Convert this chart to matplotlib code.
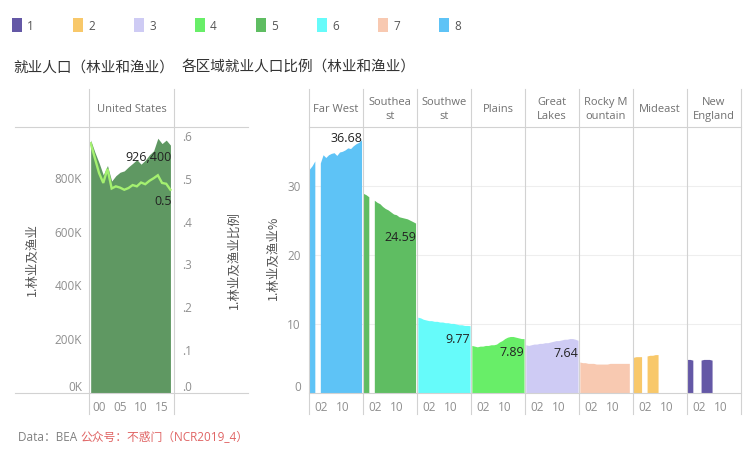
import numpy as np
import matplotlib
matplotlib.use("Agg")
import matplotlib.pyplot as plt
from matplotlib.lines import Line2D
from matplotlib.patches import Rectangle

plt.rcParams['font.family'] = ['Open Sans', 'Noto Sans CJK SC', 'DejaVu Sans']

# ---------------- data ----------------
years = list(range(1998, 2018))
us_employment = [945000, 900000, 860000, 815000, 850000, 792000, 812000, 825000, 830000, 845000,
                 858000, 872000, 855000, 870000, 890000, 905000, 952000, 932000, 945000, 926400]
us_ratio = [0.585, 0.550, 0.515, 0.492, 0.525, 0.479, 0.484, 0.481, 0.476, 0.480,
            0.487, 0.484, 0.493, 0.489, 0.497, 0.503, 0.510, 0.492, 0.490, 0.476]

nan = np.nan
regions = ["Far West", "Southeast", "Southwest", "Plains", "Great Lakes",
           "Rocky Mountain", "Mideast", "New England"]
region_headers = ["Far West", "Southea\nst", "Southwe\nst", "Plains", "Great\nLakes",
                  "Rocky M\nountain", "Mideast", "New\nEngland"]
region_rank = [8, 5, 6, 4, 3, 7, 2, 1]
far_west = [32.4, 32.9, 33.6, nan, 33.3, 34.5, 34.1, 34.5, 34.7, 34.8,
            34.4, 34.9, 35.0, 35.2, 35.5, 35.4, 35.8, 36.1, 36.3, 36.68]
southeast = [28.9, 28.7, 28.4, nan, 27.9, 27.6, 27.4, 27.0, 26.7, 26.5,
             26.2, 25.9, 25.8, 25.5, 25.4, 25.3, 25.2, 25.0, 24.8, 24.59]
southwest = [11.0, 10.9, 10.7, 10.6, 10.5, 10.5, 10.4, 10.4, 10.3, 10.3,
             10.2, 10.2, 10.1, 10.1, 10.0, 9.9, 9.9, 9.8, 9.8, 9.77]
plains = [6.9, 6.8, 6.7, 6.8, 6.8, 6.9, 6.9, 7.0, 7.0, 7.1,
          7.4, 7.6, 7.9, 8.1, 8.2, 8.2, 8.1, 8.0, 7.9, 7.89]
great_lakes = [7.0, 6.9, 7.0, 7.1, 7.1, 7.2, 7.2, 7.3, 7.3, 7.4,
               7.5, 7.6, 7.6, 7.7, 7.8, 7.8, 7.9, 7.9, 7.8, 7.64]
rocky_mountain = [4.5, 4.4, 4.4, 4.3, 4.3, 4.3, 4.2, 4.2, 4.2, 4.2,
                  4.2, 4.3, 4.3, 4.3, 4.3, 4.3, 4.3, 4.3, 4.3, nan]
mideast = [5.1, 5.2, 5.2, 5.2, nan, 5.3, 5.4, 5.4, 5.5, 5.5,
           nan, nan, nan, nan, nan, nan, nan, nan, nan, nan]
new_england = [4.8, 4.8, 4.7, nan, nan, 4.7, 4.8, 4.8, 4.8, 4.7,
               nan, nan, nan, nan, nan, nan, nan, nan, nan, nan]
region_values = [far_west, southeast, southwest, plains, great_lakes,
                 rocky_mountain, mideast, new_england]
labelled = {"Far West": "36.68", "Southeast": "24.59", "Southwest": "9.77",
            "Plains": "7.89", "Great Lakes": "7.64"}

legend_labels = ["1", "2", "3", "4", "5", "6", "7", "8"]
rank_colors = {1: "#6458a6", 2: "#f8c86a", 3: "#cecbf4", 4: "#68ee68",
               5: "#5fbd62", 6: "#66fbfa", 7: "#f8c9b1", 8: "#5ec3f6"}

# ---------------- layout helpers ----------------
W, H = 756, 452
fig = plt.figure(figsize=(W / 100, H / 100), dpi=100)
fig.patch.set_facecolor("white")

def fx(x):
    return x / W

def fy(y):
    return 1 - y / H

def add_ax(x0, y0, x1, y1):
    return fig.add_axes([x0 / W, 1 - y1 / H, (x1 - x0) / W, (y1 - y0) / H])

LINE_C = "#d2d2d2"
def hline(x0, x1, y, c=LINE_C, lw=0.8):
    fig.add_artist(Line2D([fx(x0), fx(x1)], [fy(y), fy(y)], transform=fig.transFigure, color=c, lw=lw))

def vline(x, y0, y1, c=LINE_C, lw=0.8):
    fig.add_artist(Line2D([fx(x), fx(x)], [fy(y0), fy(y1)], transform=fig.transFigure, color=c, lw=lw))

TICK_C = "#8f8f8f"
HEAD_C = "#707070"

def clean(ax):
    for s in ax.spines.values():
        s.set_visible(False)
    ax.set_xticks([])
    ax.set_yticks([])
    ax.patch.set_alpha(0)

# ---------------- legend ----------------
for i, lab in enumerate(legend_labels):
    x0 = 12 + 61 * i
    fig.add_artist(Rectangle((fx(x0), fy(33)), 10 / W, 14 / H, transform=fig.transFigure,
                             color=rank_colors[int(lab)], lw=0))
    fig.text(fx(x0 + 15), fy(26.5), lab, fontsize=8.5, color="#555555", ha="left", va="center")

# ---------------- titles ----------------
fig.text(fx(13), fy(68), "就业人口（林业和渔业）", fontsize=10.5, color="#333333",
         ha="left", va="center", family=["Noto Sans CJK SC"])
fig.text(fx(182), fy(68), "各区域就业人口比例（林业和渔业）", fontsize=10.5, color="#333333",
         ha="left", va="center", family=["Noto Sans CJK SC"])

# ---------------- left chart ----------------
TOP, BOT = 128, 394
ax1 = add_ax(89, TOP, 174, BOT)
clean(ax1)
ax1.set_xlim(1997.6, 2017.85)
ax1.set_ylim(0, 994000)
ax1.fill_between(years, us_employment, 0, color="#5f9862", lw=0)
ax2 = ax1.twinx()
clean(ax2)
ax2.set_ylim(0, 0.623)
ax2.plot(years, us_ratio, color="#a4f070", lw=1.7, solid_joinstyle="miter")

for v, lab in zip([0, 200000, 400000, 600000, 800000], ["0K", "200K", "400K", "600K", "800K"]):
    ax1.annotate(lab, xy=(0, v), xycoords=("axes fraction", "data"), xytext=(-5, 0),
                 textcoords="offset points", ha="right", va="bottom" if v == 0 else "center",
                 fontsize=8.5, color=TICK_C)
for v, lab in zip([0, .1, .2, .3, .4, .5, .6], [".0", ".1", ".2", ".3", ".4", ".5", ".6"]):
    ax2.annotate(lab, xy=(1, v), xycoords=("axes fraction", "data"), xytext=(6, 0),
                 textcoords="offset points", ha="left", va="bottom" if v == 0 else "center",
                 fontsize=8.5, color=TICK_C)
for yr, lab in zip([2000, 2005, 2010, 2015], ["00", "05", "10", "15"]):
    ax1.annotate(lab, xy=(yr, 0), xycoords=("data", "axes fraction"), xytext=(0, -5),
                 textcoords="offset points", ha="center", va="top", fontsize=8.5, color=TICK_C)
ax1.annotate(f"{us_employment[-1]:,}", xy=(years[-1], us_employment[-1]), xytext=(1, -8),
             textcoords="offset points", ha="right", va="center", fontsize=9, color="#222222")
ax2.annotate(f"{us_ratio[-1]:.1f}", xy=(years[-1], us_ratio[-1]), xytext=(1, -8),
             textcoords="offset points", ha="right", va="center", fontsize=9, color="#222222")

fig.text(fx(131.5), fy(110), "United States", fontsize=8, color=HEAD_C, ha="center", va="center")
fig.text(fx(32), fy(260), "1.林业及渔业", fontsize=9, color="#555555", rotation=90,
         ha="center", va="center", family=["Noto Sans CJK SC"])
fig.text(fx(234), fy(260), "1.林业及渔业比例", fontsize=9, color="#555555", rotation=90,
         ha="center", va="center", family=["Noto Sans CJK SC"])

hline(15, 248, TOP)
hline(15, 248, BOT)
vline(89, 90, 415)
vline(174, 90, 415)

# ---------------- right chart ----------------
X0, PW = 309, 54
for i, (name, head, vals, rank) in enumerate(zip(regions, region_headers, region_values, region_rank)):
    xa = X0 + PW * i
    ax = add_ax(xa, TOP, xa + PW, BOT)
    clean(ax)
    ax.set_xlim(1997.7, 2017.34)
    ax.set_ylim(0, 38.6)
    for g in [10, 20, 30]:
        ax.axhline(g, color="#eeeeee", lw=0.8, zorder=0)
    ax.fill_between(years, vals, 0, color=rank_colors[rank], lw=0, zorder=2)
    for yr, lab in zip([2002, 2010], ["02", "10"]):
        ax.annotate(lab, xy=(yr, 0), xycoords=("data", "axes fraction"), xytext=(0, -5),
                    textcoords="offset points", ha="center", va="top", fontsize=8.5, color=TICK_C)
    if name in labelled:
        dy = 2 if name == "Far West" else -9
        ax.annotate(labelled[name], xy=(years[-1], vals[-1]), xytext=(0, dy),
                    textcoords="offset points", ha="right", va="center", fontsize=9,
                    color="#222222", zorder=5)
    fig.text(fx(xa + PW / 2), fy(109.5), head, fontsize=8, color=HEAD_C, ha="center",
             va="center", linespacing=1.45)
    if i == 0:
        for v in [0, 10, 20, 30]:
            ax.annotate(str(v), xy=(0, v), xycoords=("axes fraction", "data"), xytext=(-6, 0),
                        textcoords="offset points", ha="right",
                        va="bottom" if v == 0 else "center", fontsize=8.5, color=TICK_C)

fig.text(fx(273), fy(258), "1.林业及渔业%", fontsize=9, color="#555555", rotation=90,
         ha="center", va="center", family=["Noto Sans CJK SC"])

hline(X0, X0 + 8 * PW, TOP)
hline(X0, X0 + 8 * PW, BOT)
for i in range(9):
    vline(X0 + PW * i, 90, 415)

# ---------------- footer ----------------
t = fig.text(fx(18), fy(438), "Data：BEA ", fontsize=8.5, color="#808080", ha="left", va="center")
fig.canvas.draw()
bb = t.get_window_extent()
fig.text(bb.x1 / W, fy(438), "公众号：不惑门（NCR2019_4）", fontsize=8.5, color="#e06464",
         ha="left", va="center")

fig.savefig("out.png", dpi=100, facecolor="white")
